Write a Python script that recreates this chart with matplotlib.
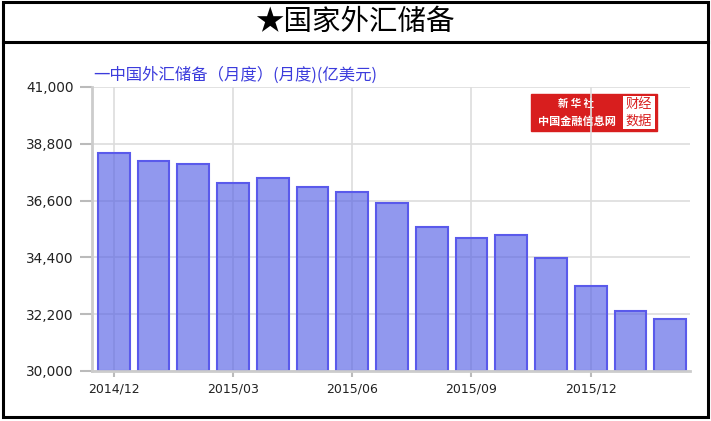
#-*- coding: utf-8 -*-

import matplotlib.pyplot as plt
from matplotlib.patches import Rectangle
from matplotlib.lines import Line2D
from matplotlib.ticker import FuncFormatter
import numpy as np

plt.rcParams['font.family'] = ['Noto Sans CJK SC', 'DejaVu Sans']

# 国家外汇储备 (亿美元), 2014/12 - 2016/02
months = ['2014/12', '2015/01', '2015/02', '2015/03', '2015/04', '2015/05',
          '2015/06', '2015/07', '2015/08', '2015/09', '2015/10', '2015/11',
          '2015/12', '2016/01', '2016/02']
reserves = [38430, 38134, 38015, 37300, 37481, 37111, 36938, 36513,
            35574, 35141, 35255, 34383, 33304, 32309, 32023]
yticks = [30000, 32200, 34400, 36600, 38800, 41000]
xtick_idx = [0, 3, 6, 9, 12]

W, H = 711, 421
fig = plt.figure(figsize=(W / 100, H / 100), dpi=100)

# outer frame and title box
fig.add_artist(Rectangle((3 / W, 1 - 417 / H), 705 / W, 415 / H, transform=fig.transFigure,
                         fill=False, edgecolor='black', linewidth=2.2))
fig.add_artist(Line2D([3 / W, 708 / W], [1 - 42 / H, 1 - 42 / H], transform=fig.transFigure,
                      color='black', linewidth=2.2))
fig.text(0.5, 1 - 22 / H, '★国家外汇储备', ha='center', va='center', fontsize=20.5,
         color='black', fontweight='medium')

ax = fig.add_axes([92 / W, 50 / H, 598 / W, 284 / H])

x = np.arange(len(months))
ax.bar(x, np.array(reserves) - 30000, bottom=30000, width=0.8,
       facecolor=(86 / 255, 97 / 255, 229 / 255, 0.65),
       edgecolor=(90 / 255, 90 / 255, 235 / 255, 1.0), linewidth=1.5)

ax.set_xlim(-0.55, 14.5)
ax.set_ylim(30000, 41000)
ax.set_yticks(yticks)
ax.yaxis.set_major_formatter(FuncFormatter(lambda v, p: '{:,.0f}'.format(v)))
ax.set_xticks(xtick_idx)
ax.set_xticklabels([months[i] for i in xtick_idx])

ax.set_axisbelow(True)
ax.grid(True, color='#dddddd', linewidth=1.2)
for s in ['top', 'right']:
    ax.spines[s].set_visible(False)
for s in ['left', 'bottom']:
    ax.spines[s].set_color('#cccccc')
    ax.spines[s].set_linewidth(2)
ax.tick_params(axis='y', colors='#bbbbbb', length=9, width=1.5, pad=4, labelcolor='#222222')
ax.tick_params(axis='x', colors='#bbbbbb', length=4, width=1.5, pad=4, labelcolor='#222222')
for lab in ax.get_yticklabels():
    lab.set_family('DejaVu Sans')
    lab.set_fontsize(9.8)
for lab in ax.get_xticklabels():
    lab.set_family('DejaVu Sans')
    lab.set_fontsize(9)

# legend-like header
fig.text(93 / W, 1 - 75 / H, '一中国外汇储备（月度）(月度)(亿美元)', ha='left', va='center',
         fontsize=11.8, color='#3c3cdc')

# logo
ax.add_patch(Rectangle((531 / W, 1 - 131 / H), 126 / W, 37 / H, transform=fig.transFigure,
                       facecolor='#d81e1e', edgecolor='#d81e1e', zorder=0.2))
ax.add_patch(Rectangle((623 / W, 1 - 129 / H), 32 / W, 33 / H, transform=fig.transFigure,
                       facecolor='white', edgecolor='none', zorder=0.25))
ax.text(576 / W, 1 - 104 / H, '新 华 社', transform=fig.transFigure, ha='center', va='center',
        fontsize=7.5, color='white', style='italic', fontweight='bold', zorder=0.3)
ax.text(577 / W, 1 - 121 / H, '中国金融信息网', transform=fig.transFigure, ha='center',
        va='center', fontsize=8, color='white', fontweight='bold', zorder=0.3)
ax.text(639 / W, 1 - 104 / H, '财经', transform=fig.transFigure, ha='center', va='center',
        fontsize=9.5, color='#d81e1e', zorder=0.3)
ax.text(639 / W, 1 - 121 / H, '数据', transform=fig.transFigure, ha='center', va='center',
        fontsize=9.5, color='#d81e1e', zorder=0.3)

plt.savefig('out.png', dpi=100)
